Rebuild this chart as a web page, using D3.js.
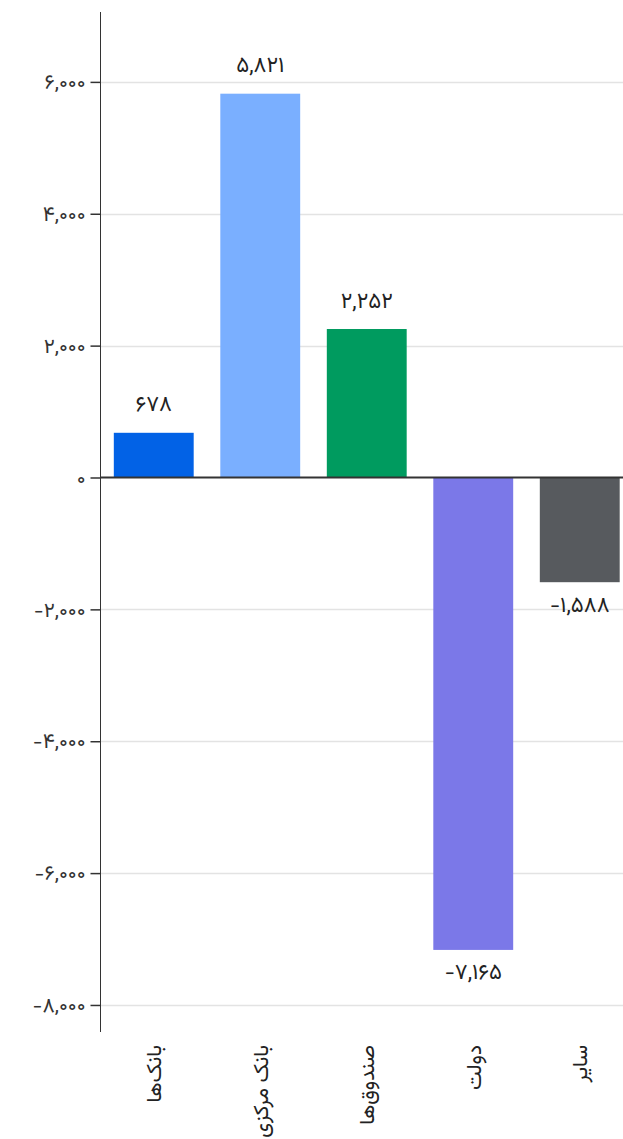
<!DOCTYPE html>
<html>
<head>
<meta charset="utf-8">
<script src="https://cdn.jsdelivr.net/npm/d3@7"></script>
<style>
  html, body { margin: 0; padding: 0; background: #fff; overflow: hidden; }
  svg { display: block; }
  text { font-family: Vazirmatn, "Noto Sans Arabic", "DejaVu Sans", sans-serif; }
</style>
</head>
<body>
<svg id="chart" width="623" height="1139"></svg>
<script>
const categories = ["بانک‌ها", "بانک مرکزی", "صندوق‌ها", "دولت", "سایر"];
const values = [678, 5821, 2252, -7165, -1588];
const tickValues = [-8000, -6000, -4000, -2000, 0, 2000, 4000, 6000];
const barColors = ["#0262e6", "#7aafff", "#009b5f", "#7b78e8", "#575a5e"];

const locale = d3.formatLocale({
  decimal: ".",
  thousands: ",",
  grouping: [3],
  currency: ["", ""],
  numerals: ["۰","۱","۲","۳","۴","۵","۶","۷","۸","۹"],
  minus: "−"
});
const fmt = locale.format(",d");

const svg = d3.select("#chart");
const y = d3.scaleLinear().domain([-8410, 7060]).range([1032, 12]);
const x = d3.scaleBand().domain(categories).range([100.5, 633]).paddingInner(0.25).paddingOuter(0.125);

// grid
svg.append("g").selectAll("line").data(tickValues.filter(d => d !== 0)).join("line")
  .attr("x1", 100).attr("x2", 623)
  .attr("y1", d => Math.round(y(d)) + 0.5).attr("y2", d => Math.round(y(d)) + 0.5)
  .attr("stroke", "#e3e3e3").attr("stroke-width", 1.5);

// bars
svg.append("g").selectAll("rect").data(values).join("rect")
  .attr("x", (d, i) => x(categories[i]))
  .attr("width", x.bandwidth())
  .attr("y", d => y(Math.max(0, d)))
  .attr("height", d => Math.abs(y(d) - y(0)))
  .attr("fill", (d, i) => barColors[i]);

// zero line
svg.append("line").attr("x1", 100).attr("x2", 623)
  .attr("y1", y(0)).attr("y2", y(0))
  .attr("stroke", "#333").attr("stroke-width", 2);

// y axis
const yAxis = d3.axisLeft(y).tickValues(tickValues).tickFormat(fmt).tickSize(10).tickPadding(5);
const gy = svg.append("g").attr("transform", "translate(100.5,0)").call(yAxis);
gy.select(".domain").attr("stroke", "#333").attr("d", `M0,${y.range()[1]}V${y.range()[0]}`);
gy.selectAll(".tick line").attr("stroke", "#333").attr("stroke-width", 1.5);
gy.selectAll(".tick text").attr("fill", "#333").style("font-size", "21px")
  .style("font-family", 'Vazirmatn, "Noto Sans Arabic", "DejaVu Sans", sans-serif');

// value labels
svg.append("g").selectAll("text").data(values).join("text")
  .attr("x", (d, i) => x(categories[i]) + x.bandwidth() / 2)
  .attr("y", d => d >= 0 ? y(d) - 27 : y(d) + 24)
  .attr("text-anchor", "middle")
  .attr("dominant-baseline", "central")
  .attr("fill", "#222")
  .style("font-size", "22px")
  .text(d => fmt(d));

// x labels
svg.append("g").selectAll("text").data(categories).join("text")
  .attr("transform", d => `translate(${x(d) + x.bandwidth() / 2},1045) rotate(-90)`)
  .attr("text-anchor", "end")
  .attr("dy", "0.35em")
  .attr("fill", "#222")
  .style("font-size", "21px")
  .text(d => d);
</script>
</body>
</html>
